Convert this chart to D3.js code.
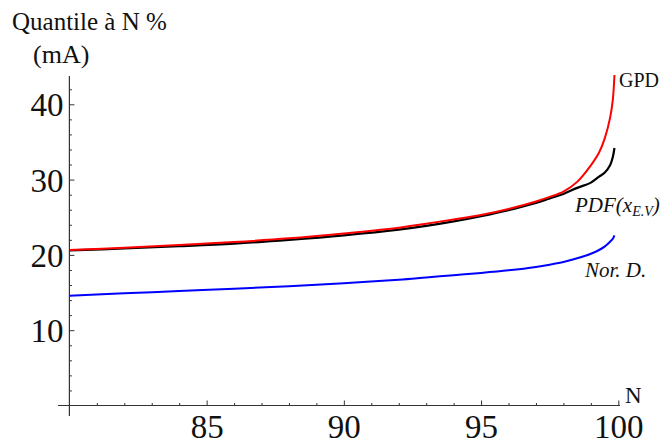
<!DOCTYPE html>
<html>
<head>
<meta charset="utf-8">
<script src="https://cdn.jsdelivr.net/npm/d3@7"></script>
<style>
  html, body { margin: 0; padding: 0; background: #fff; }
  svg { display: block; }
  text { font-family: "Liberation Serif", "DejaVu Serif", serif; fill: #111; }
</style>
</head>
<body>
<svg id="chart" width="662" height="443"></svg>
<script>
// ---- data ----
const nValues = [80, 82, 84, 86, 88, 90, 92, 93, 94, 95, 96, 97, 97.5, 98, 98.5, 99, 99.3, 99.5, 99.7, 99.8, 99.86];
const gpdValues = [20.65, 20.95, 21.3, 21.7, 22.2, 22.85, 23.6, 24.15, 24.7, 25.3, 26.1, 27.1, 27.7, 28.4, 29.7, 31.9, 33.6, 35.4, 38.2, 40.6, 43.9];
const pdfValues = [20.6, 20.85, 21.15, 21.5, 22.0, 22.6, 23.35, 23.85, 24.45, 25.15, 25.95, 26.9, 27.5, 28.1, 28.9, 29.6, 30.4, 30.9, 31.9, 33.0, 34.2];
const norValues = [14.58, 14.9, 15.2, 15.5, 15.85, 16.25, 16.7, 17.0, 17.3, 17.6, 17.95, 18.4, 18.7, 19.05, 19.55, 20.15, 20.65, 21.1, 21.75, 22.15, 22.6];
const xTickLabels = [85, 90, 95, 100];
const yTickLabels = [10, 20, 30, 40];
const seriesNames = ["GPD", "PDF", "Nor. D."];

const svg = d3.select("#chart");

const x = d3.scaleLinear().domain([80, 100]).range([69.4, 618.3]);
const y = d3.scaleLinear().domain([0, 40]).range([405.5, 104.3]);

const axisColor = "#333";

// axis lines (extend slightly like Mathematica's)
svg.append("line")
  .attr("x1", 58).attr("x2", 620)
  .attr("y1", y(0)).attr("y2", y(0))
  .attr("stroke", axisColor).attr("stroke-width", 1.2);
svg.append("line")
  .attr("x1", x(80)).attr("x2", x(80))
  .attr("y1", 76).attr("y2", 416)
  .attr("stroke", axisColor).attr("stroke-width", 1.2);

// x axis ticks
const xMinor = d3.range(81, 100, 1).filter(v => v % 5 !== 0);
const gxMinor = svg.append("g").attr("transform", `translate(0,${y(0)})`)
  .call(d3.axisBottom(x).tickValues(xMinor).tickSize(-2.5).tickFormat(""));
const gx = svg.append("g").attr("transform", `translate(0,${y(0)})`)
  .call(d3.axisBottom(x).tickValues(xTickLabels).tickSize(-5).tickPadding(0).tickFormat(d3.format("d")));
[gxMinor, gx].forEach(g => {
  g.select(".domain").remove();
  g.selectAll(".tick line").attr("stroke", axisColor);
});
gx.selectAll(".tick text")
  .attr("y", 32).attr("dy", 0)
  .style("font-size", "33px")
  .style("font-family", "Liberation Serif, serif")
  .attr("fill", "#111");

// y axis ticks
const yMinor = d3.range(2, 44, 2).filter(v => v % 10 !== 0);
const gyMinor = svg.append("g").attr("transform", `translate(${x(80)},0)`)
  .call(d3.axisLeft(y).tickValues(yMinor).tickSize(-2.5).tickFormat(""));
const gy = svg.append("g").attr("transform", `translate(${x(80)},0)`)
  .call(d3.axisLeft(y).tickValues(yTickLabels).tickSize(-5).tickPadding(0).tickFormat(d3.format("d")));
[gyMinor, gy].forEach(g => {
  g.select(".domain").remove();
  g.selectAll(".tick line").attr("stroke", axisColor);
});
gy.selectAll(".tick text")
  .attr("x", -6).attr("dy", "0.35em")
  .style("font-size", "33px")
  .style("font-family", "Liberation Serif, serif")
  .attr("fill", "#111");

// curves
const line = d3.line().x(d => x(d[0])).y(d => y(d[1])).curve(d3.curveCatmullRom.alpha(0.5));
const mk = vals => nValues.map((n, i) => [n, vals[i]]);

svg.append("path").datum(mk(norValues))
  .attr("d", line).attr("fill", "none").attr("stroke", "#0000ff").attr("stroke-width", 2);
svg.append("path").datum(mk(pdfValues))
  .attr("d", line).attr("fill", "none").attr("stroke", "#000").attr("stroke-width", 2.2);
svg.append("path").datum(mk(gpdValues))
  .attr("d", line).attr("fill", "none").attr("stroke", "#ff0000").attr("stroke-width", 2);

// axis titles
svg.append("text").attr("x", 12).attr("y", 30).style("font-size", "25px").text("Quantile à N %");
svg.append("text").attr("x", 33).attr("y", 63).style("font-size", "26px").text("(mA)");
svg.append("text").attr("x", 625).attr("y", 403).style("font-size", "23px").text("N");

// series labels
svg.append("text").attr("x", 619).attr("y", 87).style("font-size", "20px").text(seriesNames[0]);
const pdfLabel = svg.append("text").attr("x", 575).attr("y", 212)
  .style("font-size", "21px").style("font-style", "italic");
pdfLabel.append("tspan").text(seriesNames[1] + "(x");
pdfLabel.append("tspan").attr("dy", 4).style("font-size", "14px").text("E.V");
pdfLabel.append("tspan").attr("dy", -4).text(")");
svg.append("text").attr("x", 585).attr("y", 277)
  .style("font-size", "21px").style("font-style", "italic").text(seriesNames[2]);
</script>
</body>
</html>
